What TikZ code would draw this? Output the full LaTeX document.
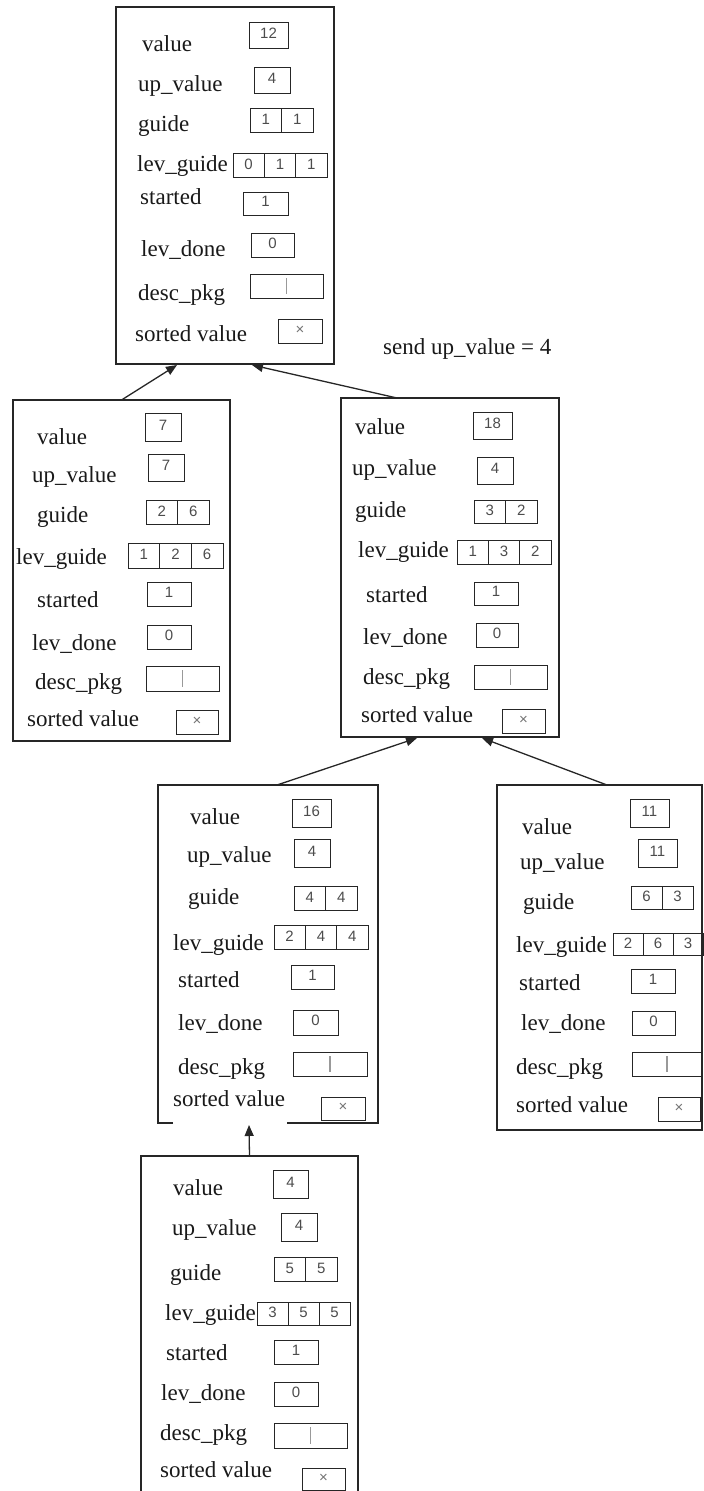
\documentclass[tikz,border=0pt]{standalone}
\usepackage{fontspec}
\setmainfont{Liberation Serif}
\newfontfamily\digitfont{Liberation Sans}
\usetikzlibrary{arrows.meta,calc}
\tikzset{
  outer/.style={draw=black!85, line width=1.4pt, inner sep=0pt, outer sep=0pt},
  outerline/.style={draw=black!85, line width=1.4pt},
  cell/.style={draw=black!85, line width=1pt},
  lab/.style={anchor=west, inner sep=0pt, text height=16pt, text depth=5pt,
    font=\fontsize{23}{23}\selectfont, text=black!90},
  dig/.style={inner sep=0pt, font=\digitfont\fontsize{15}{15}\selectfont, text=black!70},
  arr/.style={draw=black!85, line width=1.3pt, -{Triangle[length=11pt,width=9pt]}},
}
\newcommand\lab[4]{\node[lab] (#1) at (#2,#3+2) {#4};}
\newcommand\one[6]{\draw[cell] (#2,#3) rectangle (#4,#5);
  \node[dig] (#1) at ({(#2+#4)/2},{(#3+#5)/2-2}) {#6};}
\newcommand\two[7]{\draw[cell] (#2,#3) rectangle (#4,#5);
  \draw[cell] ({(#2+#4)/2},#3) -- ({(#2+#4)/2},#5);
  \node[dig] (#1-1) at ({(3*#2+#4)/4},{(#3+#5)/2-1}) {#6};
  \node[dig] (#1-2) at ({(#2+3*#4)/4},{(#3+#5)/2-1}) {#7};}
\newcommand\three[8]{\draw[cell] (#2,#3) rectangle (#4,#5);
  \draw[cell] ({(2*#2+#4)/3},#3) -- ({(2*#2+#4)/3},#5);
  \draw[cell] ({(#2+2*#4)/3},#3) -- ({(#2+2*#4)/3},#5);
  \node[dig] (#1-1) at ({(5*#2+#4)/6},{(#3+#5)/2-1}) {#6};
  \node[dig] (#1-2) at ({(#2+#4)/2},{(#3+#5)/2-1}) {#7};
  \node[dig] (#1-3) at ({(#2+5*#4)/6},{(#3+#5)/2-1}) {#8};}
\newcommand\pkg[5]{\draw[cell] (#2,#3) rectangle (#4,#5);
  \draw[black!40, line width=1.5pt] ({(#2+#4)/2},#3+4) -- ({(#2+#4)/2},#5-4);
  \coordinate (#1) at ({(#2+#4)/2},{(#3+#5)/2});}
\newcommand\srt[5]{\draw[cell] (#2,#3) rectangle (#4,#5);
  \node[dig, text=black!55] (#1) at ({(#2+#4)/2},{(#3+#5)/2-1}) {×};}
\begin{document}
\begin{tikzpicture}[x=1pt,y=-1pt]
\useasboundingbox (0,0) rectangle (704,1491);
% ---------- box A ----------
\node[outer, minimum width=218pt, minimum height=357pt] (A) at (225,185.5) {};
\lab{A-l1}{142}{44}{value}        \one{A-v}{249}{22}{288}{48}{12}
\lab{A-l2}{138}{84}{up\_value}    \one{A-u}{254}{67}{290}{93}{4}
\lab{A-l3}{138}{124}{guide}       \two{A-g}{250}{108}{313}{132}{1}{1}
\lab{A-l4}{137}{164}{lev\_guide}  \three{A-lg}{233}{153}{327}{177}{0}{1}{1}
\lab{A-l5}{140}{197}{started}     \one{A-s}{243}{192}{288}{215}{1}
\lab{A-l6}{141}{249}{lev\_done}   \one{A-d}{251}{233}{294}{257}{0}
\lab{A-l7}{138}{293}{desc\_pkg}   \pkg{A-p}{250}{274}{323}{298}
\lab{A-l8}{135}{334}{sorted value}\srt{A-x}{278}{319}{322}{343}
% ---------- box B ----------
\node[outer, minimum width=217pt, minimum height=341pt] (B) at (121.5,570.5) {};
\lab{B-l1}{37}{437}{value}        \one{B-v}{145}{413}{181}{441}{7}
\lab{B-l2}{32}{475}{up\_value}    \one{B-u}{148}{454}{184}{481}{7}
\lab{B-l3}{37}{515}{guide}        \two{B-g}{146}{500}{209}{524}{2}{6}
\lab{B-l4}{16}{557}{lev\_guide}   \three{B-lg}{128}{543}{223}{568}{1}{2}{6}
\lab{B-l5}{37}{600}{started}      \one{B-s}{147}{582}{191}{606}{1}
\lab{B-l6}{32}{643}{lev\_done}    \one{B-d}{147}{625}{191}{649}{0}
\lab{B-l7}{35}{682}{desc\_pkg}    \pkg{B-p}{146}{666}{219}{691}
\lab{B-l8}{27}{719}{sorted value} \srt{B-x}{176}{710}{218}{734}
% ---------- box C ----------
\node[outer, minimum width=218pt, minimum height=339pt] (C) at (450,567.5) {};
\lab{C-l1}{355}{427}{value}       \one{C-v}{473}{412}{512}{439}{18}
\lab{C-l2}{352}{468}{up\_value}   \one{C-u}{477}{457}{513}{484}{4}
\lab{C-l3}{355}{510}{guide}       \two{C-g}{474}{500}{537}{523}{3}{2}
\lab{C-l4}{358}{550}{lev\_guide}  \three{C-lg}{457}{540}{551}{564}{1}{3}{2}
\lab{C-l5}{366}{595}{started}     \one{C-s}{474}{582}{518}{605}{1}
\lab{C-l6}{363}{637}{lev\_done}   \one{C-d}{476}{623}{518}{647}{0}
\lab{C-l7}{363}{677}{desc\_pkg}   \pkg{C-p}{474}{665}{547}{689}
\lab{C-l8}{361}{715}{sorted value}\srt{C-x}{502}{709}{545}{733}
% ---------- box D ----------
\node[inner sep=0pt, outer sep=0pt, minimum width=220pt, minimum height=338pt] (D) at (268,954) {};
\draw[outerline] (173,1123) -- (158,1123) -- (158,785) -- (378,785) -- (378,1123) -- (287,1123);
\lab{D-l1}{190}{817}{value}       \one{D-v}{292}{799}{331}{827}{16}
\lab{D-l2}{187}{855}{up\_value}   \one{D-u}{294}{839}{330}{867}{4}
\lab{D-l3}{188}{897}{guide}       \two{D-g}{294}{886}{357}{910}{4}{4}
\lab{D-l4}{173}{943}{lev\_guide}  \three{D-lg}{274}{925}{368}{949}{2}{4}{4}
\lab{D-l5}{178}{980}{started}     \one{D-s}{291}{965}{334}{989}{1}
\lab{D-l6}{178}{1023}{lev\_done}  \one{D-d}{293}{1010}{338}{1035}{0}
\lab{D-l7}{178}{1067}{desc\_pkg}  \pkg{D-p}{293}{1052}{367}{1076}
\lab{D-l8}{173}{1099}{sorted value}\srt{D-x}{321}{1097}{365}{1120}
% ---------- box E ----------
\node[outer, minimum width=205pt, minimum height=345pt] (E) at (599.5,957.5) {};
\lab{E-l1}{522}{827}{value}       \one{E-v}{630}{799}{669}{827}{11}
\lab{E-l2}{520}{862}{up\_value}   \one{E-u}{638}{839}{677}{867}{11}
\lab{E-l3}{523}{902}{guide}       \two{E-g}{631}{886}{693}{909}{6}{3}
\lab{E-l4}{516}{945}{lev\_guide}  \three{E-lg}{613}{933}{703}{955}{2}{6}{3}
\lab{E-l5}{519}{983}{started}     \one{E-s}{631}{969}{675}{993}{1}
\lab{E-l6}{521}{1023}{lev\_done}  \one{E-d}{632}{1011}{675}{1035}{0}
\lab{E-l7}{516}{1067}{desc\_pkg}  \pkg{E-p}{632}{1052}{702}{1076}
\lab{E-l8}{516}{1105}{sorted value}\srt{E-x}{658}{1097}{700}{1121}
% ---------- box F ----------
\node[inner sep=0pt, outer sep=0pt, minimum width=217pt, minimum height=335pt] (F) at (249.5,1323.5) {};
\draw[outerline] (141,1492) -- (141,1156) -- (358,1156) -- (358,1492);
\lab{F-l1}{173}{1188}{value}      \one{F-v}{273}{1170}{308}{1198}{4}
\lab{F-l2}{172}{1228}{up\_value}  \one{F-u}{281}{1213}{317}{1241}{4}
\lab{F-l3}{170}{1273}{guide}      \two{F-g}{274}{1257}{337}{1281}{5}{5}
\lab{F-l4}{165}{1313}{lev\_guide} \three{F-lg}{257}{1302}{350}{1325}{3}{5}{5}
\lab{F-l5}{166}{1353}{started}    \one{F-s}{274}{1340}{318}{1364}{1}
\lab{F-l6}{161}{1393}{lev\_done}  \one{F-d}{274}{1382}{318}{1406}{0}
\lab{F-l7}{160}{1433}{desc\_pkg}  \pkg{F-p}{274}{1423}{347}{1448}
\lab{F-l8}{160}{1470}{sorted value}\srt{F-x}{302}{1468}{345}{1490}
% ---------- note ----------
\node[lab] (note) at (383,349) {send up\_value = 4};
% ---------- connectors ----------
\coordinate (A-in1) at ($(A.south west)+(61,1)$);
\coordinate (A-in2) at ($(A.south west)+(136,1)$);
\coordinate (C-out) at ($(C.north west)+(56,0)$);
\coordinate (C-in1) at ($(C.south west)+(76,1)$);
\coordinate (C-in2) at ($(C.south west)+(141,1)$);
\coordinate (D-out) at (277,785);
\coordinate (D-in)  at (249,1125);
\coordinate (E-out) at ($(E.north west)+(110,0)$);
\draw[arr] (B.north) -- (A-in1);
\draw[arr] (C-out) -- (A-in2);
\draw[arr] (D-out) -- (C-in1);
\draw[arr] (E-out) -- (C-in2);
\draw[arr] (F.north) -- (D-in);
\end{tikzpicture}
\end{document}
